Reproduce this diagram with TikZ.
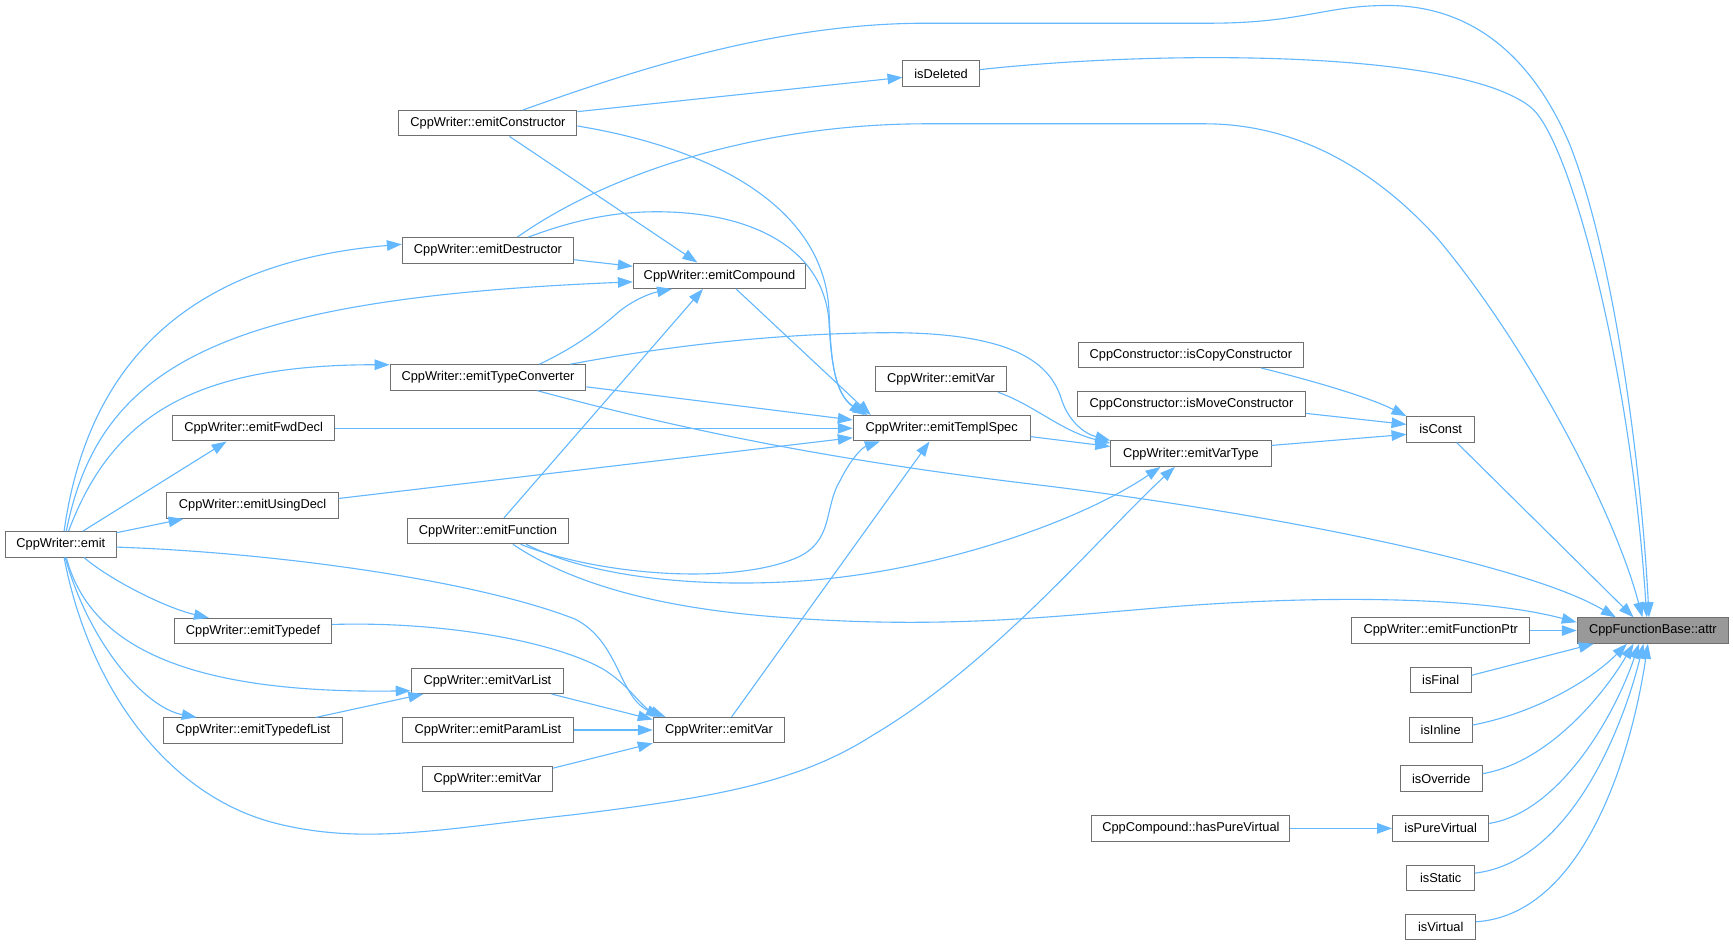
\documentclass[tikz,border=0pt]{standalone}
\usepackage{fontspec}
\setmainfont{Liberation Sans}
\usetikzlibrary{arrows.meta}
\definecolor{edgeblue}{HTML}{63B8FF}
\definecolor{boxgray}{HTML}{707070}
\definecolor{rootgray}{HTML}{999999}
\begin{document}
\begin{tikzpicture}[x=1pt,y=-1pt,
  nbox/.style={draw=boxgray,line width=0.9pt,fill=white,minimum height=23pt,inner sep=0pt,
    font=\fontsize{11.6}{13}\selectfont,text=black,anchor=center},
  rootbox/.style={nbox,fill=rootgray},
  cedge/.style={draw=edgeblue,line width=1pt,-{Triangle[length=13.5pt,width=9.5pt]}}]
\fill[white] (0,0) rectangle (1568,855);
\useasboundingbox (0,0) rectangle (1568,855);

% nodes
\node[rootbox,minimum width=137pt] (attr) at (1495.5,570.5) {CppFunctionBase::attr};
\node[nbox,minimum width=161pt] (fptr) at (1303.5,570.5) {CppWriter::emitFunctionPtr};
\node[nbox,minimum width=55pt] (isFinal) at (1303.5,615.5) {isFinal};
\node[nbox,minimum width=57pt] (isInline) at (1303.5,660.5) {isInline};
\node[nbox,minimum width=74pt] (isOverride) at (1304,704.5) {isOverride};
\node[nbox,minimum width=87pt] (isPure) at (1303.5,749.5) {isPureVirtual};
\node[nbox,minimum width=61pt] (isStatic) at (1303.5,794.5) {isStatic};
\node[nbox,minimum width=63pt] (isVirtual) at (1303.5,838.5) {isVirtual};
\node[nbox,minimum width=179pt] (hasPure) at (1077.5,749.5) {CppCompound::hasPureVirtual};
\node[nbox,minimum width=61pt] (isConst) at (1303.5,388.5) {isConst};
\node[nbox,minimum width=203pt] (isCopy) at (1077.5,321) {CppConstructor::isCopyConstructor};
\node[nbox,minimum width=206pt] (isMove) at (1078,365.5) {CppConstructor::isMoveConstructor};
\node[nbox,minimum width=145pt] (varType) at (1077.5,410.5) {CppWriter::emitVarType};
\node[nbox,minimum width=119pt] (varA) at (851.5,343) {CppWriter::emitVar};
\node[nbox,minimum width=160pt] (templ) at (852,387.5) {CppWriter::emitTemplSpec};
\node[nbox,minimum width=69pt] (isDeleted) at (851.5,66.5) {isDeleted};
\node[nbox,minimum width=161pt] (ctor) at (441.5,111.5) {CppWriter::emitConstructor};
\node[nbox,minimum width=155pt] (dtor) at (441.5,226.5) {CppWriter::emitDestructor};
\node[nbox,minimum width=156pt] (compound) at (651,249.5) {CppWriter::emitCompound};
\node[nbox,minimum width=177pt] (typeConv) at (441.5,341.5) {CppWriter::emitTypeConverter};
\node[nbox,minimum width=147pt] (fwd) at (229.5,387.5) {CppWriter::emitFwdDecl};
\node[nbox,minimum width=155pt] (using) at (228.5,457.5) {CppWriter::emitUsingDecl};
\node[nbox,minimum width=100pt] (emit) at (55,492.5) {CppWriter::emit};
\node[nbox,minimum width=145pt] (func) at (441.5,480.5) {CppWriter::emitFunction};
\node[nbox,minimum width=142pt] (typedef) at (229,571) {CppWriter::emitTypedef};
\node[nbox,minimum width=138pt] (varList) at (441,616) {CppWriter::emitVarList};
\node[nbox,minimum width=162pt] (typedefList) at (229,661) {CppWriter::emitTypedefList};
\node[nbox,minimum width=155pt] (paramList) at (441.5,660.5) {CppWriter::emitParamList};
\node[nbox,minimum width=119pt] (varB) at (650.5,660.5) {CppWriter::emitVar};
\node[nbox,minimum width=118pt] (varC) at (441,705) {CppWriter::emitVar};

% edges into attr
\draw[cedge] ([yshift=3.5pt]isDeleted.east) .. controls (1050,45) and (1320,45) .. (1385,97)
  .. controls (1420,125) and (1475,330) .. ([xshift=-5.5pt]attr.north);
\draw[cedge] ([xshift=31.5pt]ctor.north) .. controls (570,65) and (700,21) .. (838,21) -- (1094,21)
  .. controls (1180,21) and (1200,4) .. (1260,5) .. controls (1340,7) and (1390,60) .. (1420,130)
  .. controls (1460,230) and (1485,420) .. ([xshift=-3.5pt]attr.north);
\draw[cedge] ([xshift=26.5pt]dtor.north) .. controls (560,150) and (700,112) .. (838,112) -- (1090,112)
  .. controls (1180,112) and (1250,160) .. (1300,215) .. controls (1380,310) and (1460,460) .. ([xshift=-9.5pt]attr.north);
\draw[cedge] ([xshift=44.5pt]typeConv.south) .. controls (640,395) and (780,420) .. (950,440)
  .. controls (1150,465) and (1380,510) .. ([xshift=-33.5pt]attr.north);
\draw[cedge] ([xshift=22.5pt]func.south) .. controls (520,530) and (600,550) .. (700,558)
  .. controls (850,570) and (950,558) .. (1060,549) .. controls (1200,538) and (1340,540) .. ([yshift=7.5pt]attr.west);
\draw[cedge] (fptr.east) -- (attr.west);
\draw[cedge] ([xshift=14.5pt]isConst.south) -- ([xshift=-17.5pt]attr.north);
\draw[cedge] ([yshift=4.5pt]isFinal.east) -- ([xshift=-53.5pt]attr.south);
\draw[cedge] ([yshift=4.5pt]isInline.east) .. controls (1390,645) and (1440,615) .. ([xshift=-23.5pt]attr.south);
\draw[cedge] ([yshift=4.5pt]isOverride.east) .. controls (1400,690) and (1450,630) .. ([xshift=-17.5pt]attr.south);
\draw[cedge] ([yshift=4.5pt]isPure.east) .. controls (1410,735) and (1460,650) .. ([xshift=-12.5pt]attr.south);
\draw[cedge] ([yshift=4.5pt]isStatic.east) .. controls (1420,780) and (1468,660) .. ([xshift=-8.5pt]attr.south);
\draw[cedge] ([yshift=4.5pt]isVirtual.east) .. controls (1430,828) and (1475,690) .. ([xshift=-4.5pt]attr.south);

\draw[cedge] (hasPure.east) -- (isPure.west);

% into isConst
\draw[cedge] ([xshift=63.5pt]isCopy.south) .. controls (1190,345) and (1240,360) .. (isConst.north west);
\draw[cedge] ([yshift=-8.5pt]isMove.east) -- ([yshift=4.5pt]isConst.west);
\draw[cedge] ([yshift=7.5pt]varType.east) -- ([yshift=-4.5pt]isConst.west);

% into varType
\draw[cedge] ([yshift=-7.5pt]templ.east) -- ([yshift=6.5pt]varType.west);
\draw[cedge] ([xshift=51.5pt]varA.south) .. controls (935,366) and (960,390) .. ([yshift=9.5pt]varType.west);
\draw[cedge] ([xshift=74.5pt]typeConv.north) .. controls (620,310) and (720,301) .. (810,301)
  .. controls (920,302) and (950,330) .. (960,360) .. controls (966,380) and (980,392) .. (varType.north west);
\draw[cedge] ([xshift=34.5pt]func.south) .. controls (530,520) and (620,532) .. (720,526)
  .. controls (850,518) and (980,470) .. ([xshift=-27.5pt]varType.south);
\draw[cedge] ([xshift=3pt]emit.south) .. controls (80,620) and (150,720) .. (250,745)
  .. controls (330,765) and (400,750) .. (520,737) .. controls (640,722) and (720,710) .. (790,665)
  .. controls (900,600) and (1000,480) .. ([xshift=-14.5pt]varType.south);

% into templ
\draw[cedge] ([xshift=29.5pt]func.south) .. controls (540,520) and (660,530) .. (720,505)
  .. controls (755,490) and (745,460) .. (760,435) .. controls (770,415) and (780,405) .. ([xshift=-56pt]templ.south);
\draw[cedge] ([xshift=11.5pt]varB.north) -- ([xshift=-11pt]templ.south);
\draw[cedge] ([yshift=-2.5pt]ctor.east) .. controls (650,135) and (745,190) .. (750,280)
  .. controls (752,330) and (755,355) .. ([xshift=-70pt]templ.north);
\draw[cedge] ([xshift=36.5pt]dtor.north) .. controls (530,195) and (570,190) .. (610,192)
  .. controls (690,196) and (745,230) .. (750,290) .. controls (752,335) and (758,360) .. ([xshift=-67pt]templ.north);
\draw[cedge] ([xshift=15pt]compound.south) -- ([xshift=-64pt]templ.north);
\draw[cedge] ([yshift=-8.5pt]typeConv.east) -- ([yshift=7.5pt]templ.west);
\draw[cedge] (fwd.east) -- (templ.west);
\draw[cedge] ([yshift=6.5pt]using.east) -- ([yshift=-8.5pt]templ.west);

% ctor, dtor, compound
\draw[cedge] ([yshift=10.5pt]ctor.east) -- ([yshift=-3.5pt]isDeleted.west);
\draw[cedge] ([xshift=19.5pt]ctor.south) -- ([xshift=-20pt]compound.north);
\draw[cedge] ([yshift=-8.5pt]dtor.east) -- ([yshift=8.5pt]compound.west);
\draw[cedge] ([xshift=5pt]emit.north) .. controls (90,330) and (200,270) .. ([yshift=-5.5pt]compound.west);
\draw[cedge] ([xshift=46.5pt]typeConv.north) .. controls (525,312) and (545,295) .. (560,282)
  .. controls (575,270) and (590,265) .. ([xshift=-43pt]compound.south);
\draw[cedge] ([xshift=14.5pt]func.north) -- ([xshift=-15pt]compound.south);

% from emit
\draw[cedge] ([xshift=3pt]emit.north) .. controls (75,360) and (140,240) .. ([yshift=5.5pt]dtor.west);
\draw[cedge] ([xshift=7pt]emit.north) .. controls (100,380) and (170,330) .. ([yshift=11.5pt]typeConv.west);
\draw[cedge] ([xshift=20pt]emit.north) -- ([xshift=-24.5pt]fwd.south);
\draw[cedge] ([yshift=10.5pt]emit.east) -- ([xshift=-62.5pt]using.south);
\draw[cedge] ([xshift=21pt]emit.south) .. controls (100,525) and (150,550) .. ([xshift=-40pt]typedef.north);
\draw[cedge] ([xshift=5pt]emit.south) .. controls (80,580) and (160,628) .. ([yshift=-9pt]varList.west);
\draw[cedge] ([xshift=4pt]emit.south) .. controls (80,580) and (130,640) .. ([xshift=-51pt]typedefList.north);
\draw[cedge] ([yshift=-2.5pt]emit.east) .. controls (250,500) and (430,525) .. (520,560)
  .. controls (560,580) and (560,630) .. ([xshift=-52.5pt]varB.north);

% into varB / varList
\draw[cedge] ([yshift=6pt]typedef.east) .. controls (400,562) and (500,580) .. (545,605)
  .. controls (570,620) and (580,640) .. ([xshift=-48.5pt]varB.north);
\draw[cedge] ([xshift=58pt]varList.south) -- ([yshift=9.5pt]varB.west);
\draw[cedge] ([xshift=57pt]typedefList.north) -- ([xshift=-58pt]varList.south);
\draw[cedge] (paramList.east) -- (varB.west);
\draw[cedge] ([yshift=10pt]varC.east) -- (varB.south west);
\end{tikzpicture}
\end{document}
